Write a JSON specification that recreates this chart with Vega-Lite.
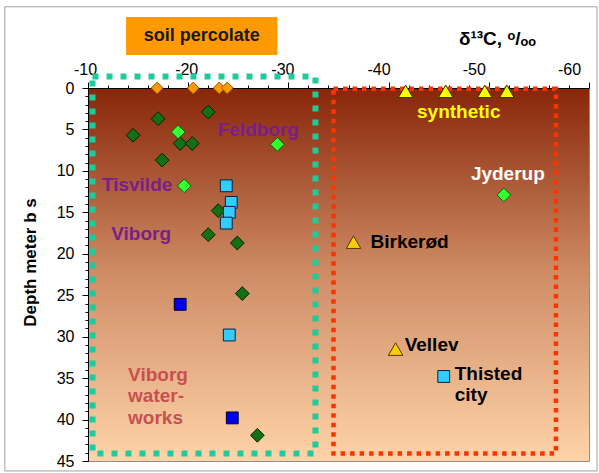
{
  "$schema": "https://vega.github.io/schema/vega-lite/v6.json",
  "width": 501,
  "height": 373,
  "autosize": {"type": "none"},
  "padding": {"left": 88, "top": 88, "right": 10, "bottom": 12},
  "background": "white",
  "config": {
    "font": "Liberation Sans",
    "view": {
      "fill": {
        "gradient": "linear", "x1": 0, "y1": 0, "x2": 0, "y2": 1,
        "stops": [
          {"offset": 0, "color": "#882608"},
          {"offset": 0.5, "color": "#CF8D66"},
          {"offset": 1, "color": "#FFD4A8"}
        ]
      },
      "stroke": "#8C8C8C",
      "strokeWidth": 1
    },
    "axis": {
      "domainColor": "black", "tickColor": "black", "labelColor": "black", "titleColor": "black",
      "labelFont": "Liberation Sans", "titleFont": "Liberation Sans", "grid": false
    }
  },
  "datasets": {
    "frame": [{"x": -1.7, "x2": -60.8, "d": -9.8, "d2": 46.2}],
    "box": [{"x": -13.8, "x2": -28.9, "d": -8.56, "d2": -3.98}],
    "boxLabel": [{"x": -21.35, "d": -6.3, "t": "soil percolate"}],
    "teal": [{"x": -10.45, "x2": -32.7, "d": -1.39, "d2": 44.1}],
    "red": [{"x": -34.5, "x2": -56.7, "d": 0.1, "d2": 44.1}],
    "soil": [
      {"x": -16.9, "d": 0}, {"x": -20.5, "d": 0}, {"x": -23.1, "d": 0}, {"x": -23.9, "d": 0}
    ],
    "diamonds": [
      {"x": -22.0, "d": 2.9, "g": "dkgreen"},
      {"x": -17.0, "d": 3.7, "g": "dkgreen"},
      {"x": -14.5, "d": 5.7, "g": "dkgreen"},
      {"x": -19.2, "d": 6.7, "g": "dkgreen"},
      {"x": -20.4, "d": 6.7, "g": "dkgreen"},
      {"x": -17.4, "d": 8.7, "g": "dkgreen"},
      {"x": -23.0, "d": 14.8, "g": "dkgreen"},
      {"x": -22.0, "d": 17.7, "g": "dkgreen"},
      {"x": -24.9, "d": 18.7, "g": "dkgreen"},
      {"x": -25.4, "d": 24.8, "g": "dkgreen"},
      {"x": -26.9, "d": 41.9, "g": "dkgreen"},
      {"x": -19.0, "d": 5.3, "g": "ltgreen"},
      {"x": -28.9, "d": 6.8, "g": "ltgreen"},
      {"x": -19.6, "d": 11.8, "g": "ltgreen"},
      {"x": -51.5, "d": 12.9, "g": "ltgreen"}
    ],
    "squares": [
      {"x": -23.8, "d": 11.8, "g": "cyan"},
      {"x": -24.3, "d": 13.8, "g": "cyan"},
      {"x": -24.1, "d": 15.0, "g": "cyan"},
      {"x": -23.8, "d": 16.3, "g": "cyan"},
      {"x": -24.1, "d": 29.8, "g": "cyan"},
      {"x": -45.5, "d": 34.8, "g": "cyan"},
      {"x": -19.2, "d": 26.1, "g": "blue"},
      {"x": -24.4, "d": 39.8, "g": "blue"}
    ],
    "triangles": [
      {"x": -41.7, "d": 0.4, "g": "synthetic"},
      {"x": -45.7, "d": 0.4, "g": "synthetic"},
      {"x": -49.6, "d": 0.4, "g": "synthetic"},
      {"x": -51.8, "d": 0.4, "g": "synthetic"},
      {"x": -36.5, "d": 18.6, "g": "tri"},
      {"x": -40.7, "d": 31.5, "g": "tri"}
    ],
    "labelsC": [
      {"x": -27.0, "d": 5.1, "t": "Feldborg", "k": "site"},
      {"x": -14.9, "d": 11.7, "t": "Tisvilde", "k": "site"},
      {"x": -15.3, "d": 17.6, "t": "Viborg", "k": "site"},
      {"x": -47.0, "d": 2.85, "t": "synthetic", "k": "synthetic"},
      {"x": -51.9, "d": 10.4, "t": "Jyderup", "k": "jyderup"}
    ],
    "labelsL": [
      {"x": -38.2, "d": 18.6, "t": "Birkerød", "k": "other"},
      {"x": -41.6, "d": 31.0, "t": "Vellev", "k": "other"},
      {"x": -46.6, "d": 34.5, "t": ["Thisted", "city"], "k": "other"},
      {"x": -14.0, "d": 34.6, "t": ["Viborg", "water-", "works"], "k": "waterworks"}
    ]
  },
  "encoding": {
    "x": {
      "field": "x", "type": "quantitative",
      "scale": {"domain": [-60, -10], "reverse": true, "nice": false, "zero": false},
      "axis": {
        "orient": "top",
        "title": "δ¹³C, ᵒ/ₒₒ",
        "values": [-10, -12, -14, -16, -18, -20, -22, -24, -26, -28, -30, -32, -34, -36, -38, -40, -42, -44, -46, -48, -50, -52, -54, -56, -58, -60],
        "labelExpr": "datum.value % 10 === 0 ? '' + datum.value : ''",
        "tickSize": {"condition": {"test": "datum.value % 10 === 0", "value": 6}, "value": 3},
        "labelOffset": {"condition": [
          {"test": "datum.value === -10", "value": -3},
          {"test": "datum.value === -20", "value": -2},
          {"test": "datum.value === -30", "value": -6},
          {"test": "datum.value === -40", "value": -10},
          {"test": "datum.value === -50", "value": -15},
          {"test": "datum.value === -60", "value": -20}
        ], "value": 0},
        "labelFontSize": 16,
        "labelPadding": 5,
        "labelOverlap": false,
        "labelFlush": false,
        "titleFontSize": 19,
        "titleFontWeight": "bold",
        "titleX": 409,
        "titleY": -50,
        "titleAlign": "center",
        "titleBaseline": "middle",
        "titleAngle": 0
      }
    },
    "y": {
      "field": "d", "type": "quantitative",
      "scale": {"domain": [0, 45], "reverse": true, "nice": false, "zero": false},
      "axis": {
        "title": "Depth meter b s",
        "values": [0, 1, 2, 3, 4, 5, 6, 7, 8, 9, 10, 11, 12, 13, 14, 15, 16, 17, 18, 19, 20, 21, 22, 23, 24, 25, 26, 27, 28, 29, 30, 31, 32, 33, 34, 35, 36, 37, 38, 39, 40, 41, 42, 43, 44, 45],
        "labelExpr": "datum.value % 5 === 0 ? datum.label : ''",
        "tickSize": {"condition": {"test": "datum.value % 5 === 0", "value": 6}, "value": 3},
        "labelFontSize": 16,
        "labelPadding": 8,
        "labelOverlap": false,
        "labelFlush": false,
        "titleFontSize": 17,
        "titleFontWeight": "bold",
        "titleX": -58,
        "titleY": 174,
        "titleAlign": "center",
        "titleBaseline": "middle",
        "titleAngle": -90
      }
    }
  },
  "layer": [
    {
      "data": {"name": "frame"},
      "mark": {"type": "rect", "filled": false, "stroke": "#A0A0A0", "strokeWidth": 1},
      "encoding": {"x2": {"field": "x2"}, "y2": {"field": "d2"}}
    },
    {
      "data": {"name": "box"},
      "mark": {"type": "rect", "fill": "#FF9900", "strokeWidth": 0},
      "encoding": {"x2": {"field": "x2"}, "y2": {"field": "d2"}}
    },
    {
      "data": {"name": "boxLabel"},
      "mark": {"type": "text", "font": "Liberation Sans", "fontSize": 18, "fontWeight": "bold", "color": "#1A1A1A", "align": "center", "baseline": "middle"},
      "encoding": {"text": {"field": "t"}}
    },
    {
      "data": {"name": "teal"},
      "mark": {"type": "rect", "filled": false, "stroke": "#1DCB9B", "strokeWidth": 6, "strokeDash": [6, 8]},
      "encoding": {"x2": {"field": "x2"}, "y2": {"field": "d2"}}
    },
    {
      "data": {"name": "red"},
      "mark": {"type": "rect", "filled": false, "stroke": "#FF3300", "strokeWidth": 4.5, "strokeDash": [4.5, 5]},
      "encoding": {"x2": {"field": "x2"}, "y2": {"field": "d2"}}
    },
    {
      "data": {"name": "soil"},
      "mark": {"type": "point", "shape": "diamond", "size": 140, "fill": "#FF9900", "stroke": "#A05A00", "strokeWidth": 1, "opacity": 1, "fillOpacity": 1}
    },
    {
      "data": {"name": "diamonds"},
      "mark": {"type": "point", "shape": "diamond", "size": 190, "strokeWidth": 1, "opacity": 1, "fillOpacity": 1},
      "encoding": {
        "fill": {"field": "g", "type": "nominal", "legend": null,
          "scale": {"domain": ["dkgreen", "ltgreen", "cyan", "blue", "synthetic", "tri"], "range": ["#157015", "#33FF33", "#33CCFF", "#0000EE", "#FFFF00", "#FFCC00"]}},
        "stroke": {"field": "g", "type": "nominal", "legend": null,
          "scale": {"domain": ["dkgreen", "ltgreen", "cyan", "blue", "synthetic", "tri"], "range": ["#002200", "#006600", "#002244", "#000022", "#333300", "#4D3A00"]}}
      }
    },
    {
      "data": {"name": "squares"},
      "mark": {"type": "point", "shape": "square", "size": 140, "strokeWidth": 1, "opacity": 1, "fillOpacity": 1},
      "encoding": {
        "fill": {"field": "g", "type": "nominal", "legend": null,
          "scale": {"domain": ["dkgreen", "ltgreen", "cyan", "blue", "synthetic", "tri"], "range": ["#157015", "#33FF33", "#33CCFF", "#0000EE", "#FFFF00", "#FFCC00"]}},
        "stroke": {"field": "g", "type": "nominal", "legend": null,
          "scale": {"domain": ["dkgreen", "ltgreen", "cyan", "blue", "synthetic", "tri"], "range": ["#002200", "#006600", "#002244", "#000022", "#333300", "#4D3A00"]}}
      }
    },
    {
      "data": {"name": "triangles"},
      "mark": {"type": "point", "shape": "triangle-up", "size": 210, "strokeWidth": 1, "opacity": 1, "fillOpacity": 1},
      "encoding": {
        "fill": {"field": "g", "type": "nominal", "legend": null,
          "scale": {"domain": ["dkgreen", "ltgreen", "cyan", "blue", "synthetic", "tri"], "range": ["#157015", "#33FF33", "#33CCFF", "#0000EE", "#FFFF00", "#FFCC00"]}},
        "stroke": {"field": "g", "type": "nominal", "legend": null,
          "scale": {"domain": ["dkgreen", "ltgreen", "cyan", "blue", "synthetic", "tri"], "range": ["#002200", "#006600", "#002244", "#000022", "#333300", "#4D3A00"]}}
      }
    },
    {
      "data": {"name": "labelsC"},
      "mark": {"type": "text", "font": "Liberation Sans", "fontSize": 19, "fontWeight": "bold", "align": "center", "baseline": "middle"},
      "encoding": {
        "text": {"field": "t"},
        "color": {"field": "k", "type": "nominal", "legend": null,
          "scale": {"domain": ["site", "synthetic", "jyderup", "other", "waterworks"], "range": ["#7B1E8A", "#FFFF00", "#FFFFFF", "#000000", "#C85050"]}}
      }
    },
    {
      "data": {"name": "labelsL"},
      "mark": {"type": "text", "font": "Liberation Sans", "fontSize": 19, "fontWeight": "bold", "align": "left", "baseline": "middle", "lineHeight": 21.5},
      "encoding": {
        "text": {"field": "t"},
        "color": {"field": "k", "type": "nominal", "legend": null,
          "scale": {"domain": ["site", "synthetic", "jyderup", "other", "waterworks"], "range": ["#7B1E8A", "#FFFF00", "#FFFFFF", "#000000", "#C85050"]}}
      }
    }
  ]
}
